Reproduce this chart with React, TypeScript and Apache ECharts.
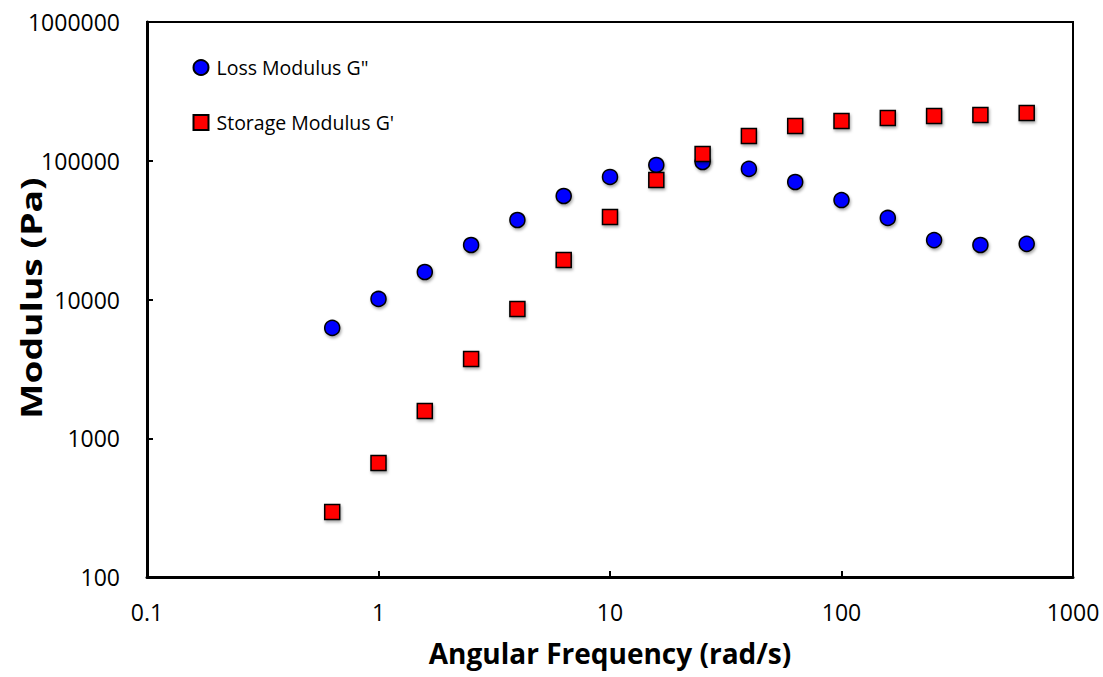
import React, { useEffect, useRef } from "react";
import * as echarts from "echarts";

const frequency = [0.631, 1, 1.585, 2.512, 3.981, 6.31, 10, 15.85, 25.12, 39.81, 63.1, 100, 158.5, 251.2, 398.1, 631];
const lossModulus = [6240, 10090, 15780, 24700, 37400, 55700, 76400, 93200, 97900, 87300, 70300, 52100, 38700, 26800, 24700, 25200];
const storageModulus = [294, 663, 1571, 3724, 8550, 19270, 39300, 72600, 111900, 150800, 178000, 193500, 203300, 210200, 213700, 220800];

const seriesNames = ["Loss Modulus G\"", "Storage Modulus G'"];
const xAxisTitle = "Angular Frequency (rad/s)";
const yAxisTitle = "Modulus (Pa)";

const FONT = "'Open Sans', 'Liberation Sans', sans-serif";

export default function App() {
  const ref = useRef<HTMLDivElement>(null);
  useEffect(() => {
    if (!ref.current) return;
    const chart = echarts.init(ref.current, null, { renderer: "svg" });
    const markerStyle = {
      borderColor: "#000",
      borderWidth: 1.5,
      opacity: 1,
      shadowColor: "rgba(0,0,0,0.35)",
      shadowBlur: 3,
      shadowOffsetX: 1,
      shadowOffsetY: 2,
    };
    chart.setOption({
      animation: false,
      backgroundColor: "#fff",
      grid: {
        left: 147,
        top: 22,
        right: 1103 - 1073,
        bottom: 677 - 577,
        outerBoundsMode: "none",
        containLabel: false,
        show: true,
        borderColor: "#000",
        borderWidth: 2,
      },
      legend: {
        orient: "vertical",
        left: 187.5,
        top: 52.5,
        itemWidth: 15,
        itemHeight: 15,
        itemGap: 35,
        textStyle: { fontFamily: FONT, fontSize: 19.5, color: "#000", padding: [0, 0, 0, 3] },
        data: seriesNames,
      },
      graphic: [
        {
          type: "text",
          x: 31,
          y: 298,
          rotation: Math.PI / 2,
          scaleX: 1.33,
          style: {
            text: yAxisTitle,
            fontFamily: FONT,
            fontSize: 28,
            fontWeight: "bold",
            fill: "#000",
            align: "center",
            verticalAlign: "middle",
          },
        },
      ],
      xAxis: {
        type: "log",
        logBase: 10,
        min: 0.1,
        max: 1000,
        name: xAxisTitle,
        nameLocation: "middle",
        nameGap: 62,
        nameTextStyle: { fontFamily: FONT, fontSize: 28, fontWeight: "bold", color: "#000" },
        axisLine: { show: true, lineStyle: { color: "#000", width: 3 } },
        axisTick: { show: true, inside: true, length: 6, lineStyle: { color: "#000", width: 2 } },
        minorTick: { show: false },
        splitLine: { show: false },
        axisLabel: {
          fontFamily: FONT,
          fontSize: 23,
          color: "#000",
          margin: 23,
          formatter: (v: number) => String(v),
        },
      },
      yAxis: {
        type: "log",
        logBase: 10,
        min: 100,
        max: 1000000,
        axisLine: { show: true, lineStyle: { color: "#000", width: 3 } },
        axisTick: { show: true, inside: true, length: 6, lineStyle: { color: "#000", width: 2 } },
        splitLine: { show: false },
        axisLabel: {
          fontFamily: FONT,
          fontSize: 23,
          color: "#000",
          margin: 27,
          formatter: (v: number) => String(v),
        },
      },
      series: [
        {
          name: seriesNames[0],
          type: "scatter",
          symbol: "circle",
          symbolSize: 15,
          itemStyle: { color: "#0000ff", ...markerStyle },
          data: frequency.map((f, i) => [f, lossModulus[i]]),
        },
        {
          name: seriesNames[1],
          type: "scatter",
          symbol: "rect",
          symbolSize: 15,
          itemStyle: { color: "#ff0000", ...markerStyle },
          data: frequency.map((f, i) => [f, storageModulus[i]]),
        },
      ],
    });
    return () => chart.dispose();
  }, []);
  return <div ref={ref} style={{ width: 1103, height: 677, position: "absolute", left: 0, top: 0 }} />;
}
